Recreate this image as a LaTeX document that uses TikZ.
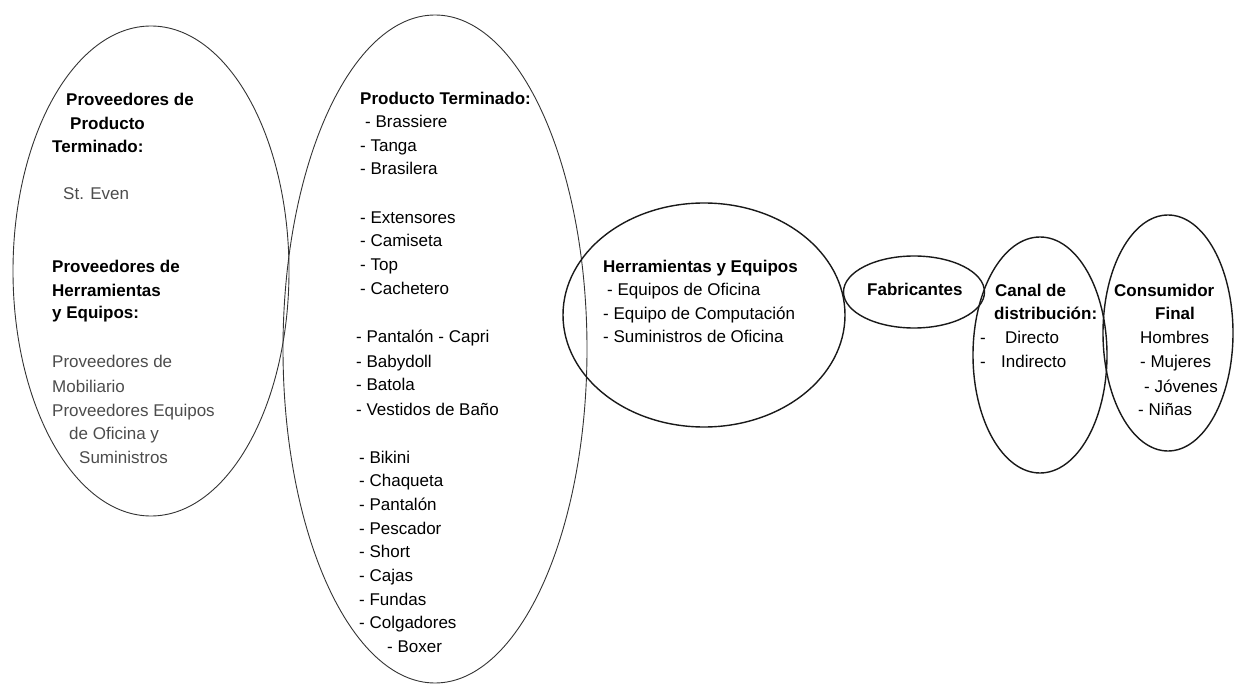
\documentclass[tikz,border=0pt]{standalone}
\usepackage{fontspec}
\setmainfont{Liberation Sans}
\usetikzlibrary{shapes.geometric}
\begin{document}
\begin{tikzpicture}[x=1pt,y=-1pt,
  thinoval/.style={ellipse, draw=black!80, line width=0.9pt, inner sep=0pt},
  oval/.style={ellipse, draw=black!90, line width=1.4pt, inner sep=0pt},
  txt/.style={anchor=base west, inner sep=0pt, font=\fontsize{17}{20}\selectfont},
  btxt/.style={txt, font=\fontsize{17}{20}\selectfont\bfseries},
  gtxt/.style={txt, text=black!70}]
\useasboundingbox (0,0) rectangle (1234,684);
% ovals
\node[thinoval, minimum width=276pt, minimum height=490pt] (left) at (151,271) {};
\node[thinoval, minimum width=304pt, minimum height=668pt] (prod) at (435,349) {};
\node[oval, minimum width=282pt, minimum height=224pt] (herr) at (704,315) {};
\node[oval, minimum width=141pt, minimum height=72pt] (fab) at (914,292) {};
\node[oval, minimum width=134pt, minimum height=236pt] (canal) at (1040,355) {};
\node[oval, minimum width=130pt, minimum height=236pt] (cons) at (1168,333) {};
% left oval texts
\foreach \x/\y/\t [count=\i] in {66/106/Proveedores de, 70/130/Producto, 52/153/Terminado:,
  52/273/Proveedores de, 52/297/Herramientas, 52/319/y Equipos:}
  \node[btxt] (lb\i) at (\x,\y) {\t};
\foreach \x/\y/\t [count=\i] in {63/200/St. Even, 52/367/Proveedores de, 52/392/Mobiliario,
  52/416/Proveedores Equipos, 69/439/de Oficina y, 79/463/Suministros}
  \node[gtxt] (lg\i) at (\x,\y) {\t};
% product oval texts
\node[btxt] (pt) at (360,105) {Producto Terminado:};
\foreach \x/\y/\t [count=\i] in {365/128/- Brassiere, 360/152/- Tanga, 360/175/- Brasilera,
  360/224/- Extensores, 360/247/- Camiseta, 360/271/- Top, 360/295/- Cachetero,
  356/343/- Pantalón - Capri, 356/367/- Babydoll, 356/391/- Batola, 356/415/- Vestidos de Baño,
  359/463/- Bikini, 359/486/- Chaqueta, 359/510/- Pantalón, 359/534/- Pescador,
  359/557/- Short, 359/581/- Cajas, 359/605/- Fundas, 359/628/- Colgadores, 387/652/- Boxer}
  \node[txt] (p\i) at (\x,\y) {\t};
% herramientas
\node[btxt] (ht) at (603,273) {Herramientas y Equipos};
\node[txt] (h1) at (607,296) {- Equipos de Oficina};
\node[txt] (h2) at (603,320) {- Equipo de Computación};
\node[txt] (h3) at (603,343) {- Suministros de Oficina};
% fabricantes
\node[btxt] (ft) at (867,296) {Fabricantes};
% canal
\node[btxt] (c1) at (995,297) {Canal de};
\node[btxt] (c2) at (994,320) {distribución:};
\node[txt] (cd1) at (980,344) {-};
\node[txt] (c3) at (1005,344) {Directo};
\node[txt] (cd2) at (980,368) {-};
\node[txt] (c4) at (1001,368) {Indirecto};
% consumidor
\node[btxt] (k1) at (1114,297) {Consumidor};
\node[btxt] (k2) at (1155,320) {Final};
\node[txt] (k3) at (1140,344) {Hombres};
\node[txt] (k4) at (1140,368) {- Mujeres};
\node[txt] (k5) at (1144,392) {- Jóvenes};
\node[txt] (k6) at (1138,415) {- Niñas};
\end{tikzpicture}
\end{document}
